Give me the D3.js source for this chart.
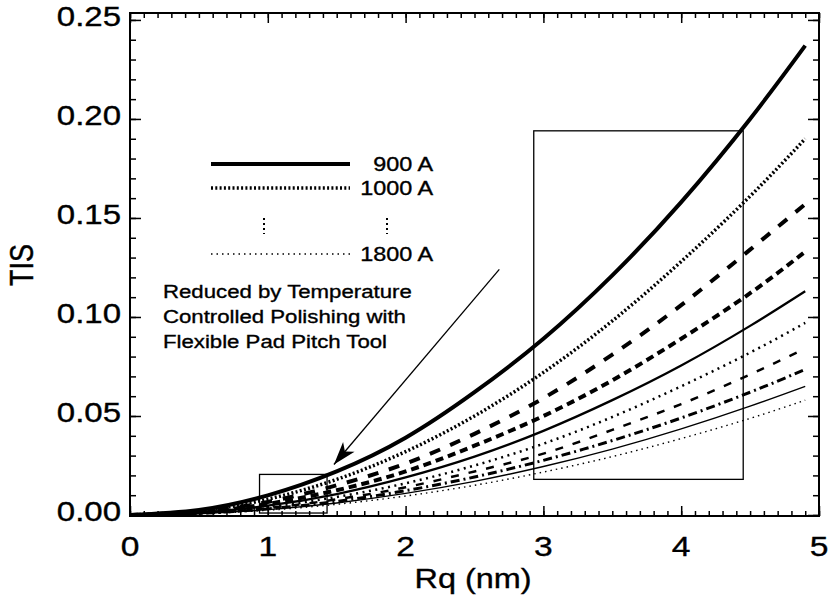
<!DOCTYPE html>
<html>
<head>
<meta charset="utf-8">
<script src="https://cdn.jsdelivr.net/npm/d3@7"></script>
<style>
  body { margin: 0; background: #fff; }
  text { font-family: "Liberation Sans", Arial, Helvetica, sans-serif; fill: #000; stroke: #000; stroke-width: 0.35px; }
</style>
</head>
<body>
<script>
// Rq (nm) sample points
const rq = [0, 0.5, 1, 1.5, 2, 2.5, 3, 3.5, 4, 4.5, 4.9];

// TIS, wavelength in Angstrom
const tis900  = [0, 0.0025, 0.0099, 0.022, 0.039, 0.062, 0.089, 0.121, 0.158, 0.200, 0.237];
const tis1000 = [0, 0.0020, 0.0080, 0.018, 0.032, 0.050, 0.072, 0.098, 0.128, 0.161, 0.190];
const tis1100 = [0, 0.0017, 0.0066, 0.015, 0.026, 0.041, 0.059, 0.081, 0.106, 0.134, 0.157];
const tis1200 = [0, 0.0014, 0.0056, 0.0125, 0.022, 0.035, 0.050, 0.068, 0.089, 0.112, 0.133];
const tis1300 = [0, 0.0012, 0.0047, 0.0106, 0.019, 0.0295, 0.0425, 0.058, 0.0755, 0.0955, 0.113];
const tis1400 = [0, 0.0010, 0.0040, 0.0091, 0.016, 0.025, 0.036, 0.0495, 0.065, 0.082, 0.097];
const tis1500 = [0, 0.0009, 0.0035, 0.0079, 0.014, 0.022, 0.031, 0.043, 0.056, 0.071, 0.084];
const tis1600 = [0, 0.0008, 0.0031, 0.0069, 0.0123, 0.0192, 0.0276, 0.0376, 0.049, 0.062, 0.0735];
const tis1700 = [0, 0.0007, 0.0027, 0.0061, 0.0109, 0.017, 0.0245, 0.0333, 0.0435, 0.055, 0.065];
const tis1800 = [0, 0.0006, 0.0024, 0.0054, 0.0096, 0.015, 0.0217, 0.0295, 0.0386, 0.0488, 0.058];

const xTicks = [0, 1, 2, 3, 4, 5];
const yTicks = [0, 0.05, 0.10, 0.15, 0.20, 0.25];

// annotation boxes and arrow, in data units
const bigBox = { x0: 2.93, x1: 4.45, y0: 0.018, y1: 0.194 };
const smallBox = { x0: 0.94, x1: 1.43, y0: 0.001, y1: 0.0205 };
const arrowFrom = [2.68, 0.124];
const arrowTo = [1.48, 0.0255];

const noteLines = ["Reduced by Temperature", "Controlled Polishing with", "Flexible Pad Pitch Tool"];

const series = [
    { data: tis900,  width: 4,   dash: null },
    { data: tis1000, width: 3.5, dash: "2,2.3" },
    { data: tis1100, width: 4,   dash: "11,11" },
    { data: tis1200, width: 4,   dash: "8,5" },
    { data: tis1300, width: 2.3, dash: null },
    { data: tis1400, width: 2.5, dash: "2,4.5" },
    { data: tis1500, width: 2.5, dash: "8,10" },
    { data: tis1600, width: 3,   dash: "9,4,2,4" },
    { data: tis1700, width: 1.4, dash: null },
    { data: tis1800, width: 1.4, dash: "1.5,4" }
];

const SX = 1.2; // the scan is stretched horizontally

const W = 830, H = 601;
const plotL = 130, plotR = 819, plotT = 13, plotB = 516;

const x = d3.scaleLinear().domain([0, 5]).range([plotL, plotR]);
const y = d3.scaleLinear().domain([-0.0005, 0.2535]).range([plotB, plotT]);

const svg = d3.select("body").append("svg")
    .attr("width", W)
    .attr("height", H);

function label(txt, px, py, size, anchor, rot) {
    return svg.append("text")
        .attr("transform", "translate(" + px + "," + py + ") scale(" + SX + ",1)" + (rot ? " rotate(-90)" : ""))
        .attr("text-anchor", anchor)
        .style("font-size", size + "px")
        .text(txt);
}

// curves
const line = d3.line()
    .x(function(d, i) { return x(rq[i]); })
    .y(function(d) { return y(d); })
    .curve(d3.curveNatural);

svg.selectAll(".curve")
    .data(series)
    .enter()
    .append("path")
    .attr("class", "curve")
    .attr("fill", "none")
    .attr("stroke", "#000")
    .attr("stroke-width", d => d.width)
    .attr("stroke-dasharray", d => d.dash)
    .attr("d", d => line(d.data));

// boxes
[bigBox, smallBox].forEach(function(b) {
    svg.append("rect")
        .attr("x", x(b.x0))
        .attr("y", y(b.y1))
        .attr("width", x(b.x1) - x(b.x0))
        .attr("height", y(b.y0) - y(b.y1))
        .attr("fill", "none")
        .attr("stroke", "#000")
        .attr("stroke-width", 1.3);
});

// arrow
svg.append("defs").append("marker")
    .attr("id", "head")
    .attr("markerUnits", "userSpaceOnUse")
    .attr("viewBox", "-24 -8 26 16")
    .attr("refX", 0)
    .attr("refY", 0)
    .attr("markerWidth", 26)
    .attr("markerHeight", 16)
    .attr("orient", "auto")
    .append("path")
    .attr("d", "M0,0L-23,-7.5L-17,0L-23,7.5Z")
    .attr("fill", "#000");

svg.append("line")
    .attr("x1", x(arrowFrom[0]))
    .attr("y1", y(arrowFrom[1]))
    .attr("x2", x(arrowTo[0]))
    .attr("y2", y(arrowTo[1]))
    .attr("stroke", "#000")
    .attr("stroke-width", 1.3)
    .attr("marker-end", "url(#head)");

// frame and ticks
svg.append("rect")
    .attr("x", plotL)
    .attr("y", plotT)
    .attr("width", plotR - plotL)
    .attr("height", plotB - plotT)
    .attr("fill", "none")
    .attr("stroke", "#000")
    .attr("stroke-width", 2);

const xMinor = d3.range(0, 5.001, 0.1);
const yMinor = d3.range(0, 0.2501, 0.01);

function ticks(axis, tx, ty) {
    const g = svg.append("g")
        .attr("transform", "translate(" + tx + "," + ty + ")")
        .call(axis);
    g.select(".domain").remove();
    g.selectAll("line").attr("stroke-width", 1.5);
    return g;
}

ticks(d3.axisBottom(x).tickValues(xMinor).tickSize(-5).tickFormat(""), 0, plotB);
ticks(d3.axisBottom(x).tickValues(xTicks).tickSize(-10).tickFormat(""), 0, plotB);
ticks(d3.axisTop(x).tickValues(xMinor).tickSize(-5).tickFormat(""), 0, plotT);
ticks(d3.axisTop(x).tickValues(xTicks).tickSize(-10).tickFormat(""), 0, plotT);
ticks(d3.axisLeft(y).tickValues(yMinor).tickSize(-6).tickFormat(""), plotL, 0);
ticks(d3.axisLeft(y).tickValues(yTicks).tickSize(-11).tickFormat(""), plotL, 0);
ticks(d3.axisRight(y).tickValues(yMinor).tickSize(-6).tickFormat(""), plotR, 0);
ticks(d3.axisRight(y).tickValues(yTicks).tickSize(-11).tickFormat(""), plotR, 0);

// tick labels
xTicks.forEach(function(v) {
    label(String(v), x(v), 556, 28, "middle");
});
yTicks.forEach(function(v) {
    label(d3.format(".2f")(v), 121, y(v) + 6, 27.5, "end");
});

// axis titles
label("Rq (nm)", 473, 588, 27, "middle");
label("TIS", 33, 265, 27, "middle", true);

// legend
function legendLine(x1, x2, ly, w, dash) {
    svg.append("line")
        .attr("x1", x1).attr("x2", x2)
        .attr("y1", ly).attr("y2", ly)
        .attr("stroke", "#000")
        .attr("stroke-width", w)
        .attr("stroke-dasharray", dash);
}
legendLine(211, 350, 164, 4, null);
legendLine(211, 350, 188, 3.5, "2,2.3");
legendLine(211, 350, 254, 1.4, "1.5,4");
[264, 387].forEach(function(lx) {
    svg.append("line")
        .attr("x1", lx).attr("x2", lx)
        .attr("y1", 218).attr("y2", 234)
        .attr("stroke", "#000")
        .attr("stroke-width", 2)
        .attr("stroke-dasharray", "2,3");
});
label("900 A", 433, 171, 19.5, "end");
label("1000 A", 433, 195, 19.5, "end");
label("1800 A", 433, 261, 19.5, "end");

// note
noteLines.forEach(function(t, i) {
    label(t, 163, 298 + i * 25, 18.5, "start");
});
</script>
</body>
</html>
